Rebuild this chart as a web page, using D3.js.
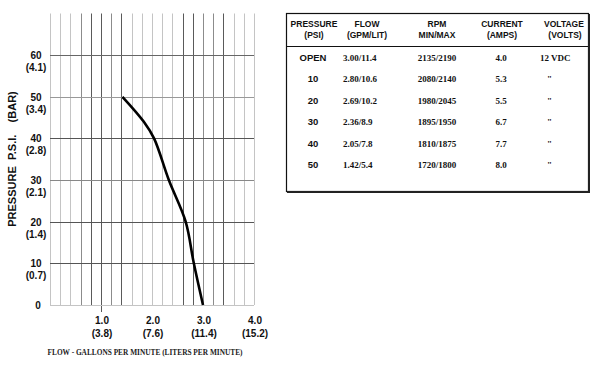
<!DOCTYPE html>
<html><head><meta charset="utf-8">
<script src="https://cdn.jsdelivr.net/npm/d3@7"></script>
<style>
body{margin:0;background:#fff;}
svg{display:block;}
.sans{font-family:"Liberation Sans",Arial,sans-serif;font-weight:bold;}
.serif{font-family:"Liberation Serif","Times New Roman",serif;font-weight:bold;}
</style></head>
<body>
<svg id="c" width="600" height="365"></svg>
<script>
// ---- data ----
const curveFlow = [3.00, 2.82, 2.66, 2.33, 2.04, 1.84, 1.42];
const curvePsi  = [0, 10, 20, 30, 40, 44, 50];
const yTicks = [0, 10, 20, 30, 40, 50, 60];
const yBar = ["", "(0.7)", "(1.4)", "(2.1)", "(2.8)", "(3.4)", "(4.1)"];
const xTicks = [1.0, 2.0, 3.0, 4.0];
const xLit = ["(3.8)", "(7.6)", "(11.4)", "(15.2)"];
const headers1 = ["PRESSURE", "FLOW", "RPM", "CURRENT", "VOLTAGE"];
const headers2 = ["(PSI)", "(GPM/LIT)", "MIN/MAX", "(AMPS)", "(VOLTS)"];
const rowPressure = ["OPEN", "10", "20", "30", "40", "50"];
const rowFlow = ["3.00/11.4", "2.80/10.6", "2.69/10.2", "2.36/8.9", "2.05/7.8", "1.42/5.4"];
const rowRpm = ["2135/2190", "2080/2140", "1980/2045", "1895/1950", "1810/1875", "1720/1800"];
const rowCurrent = ["4.0", "5.3", "5.5", "6.7", "7.7", "8.0"];
const rowVoltage = ["12 VDC", "\"", "\"", "\"", "\"", "\""];

const svg = d3.select("#c");
const x = d3.scaleLinear().domain([0, 4]).range([50, 254]);
const y = d3.scaleLinear().domain([0, 70]).range([305, 13.5]);

// vertical grid every 0.2
const vIdx = d3.range(0, 21);
const darkV = new Set([4, 5, 7, 13, 14, 17]);
const medV = new Set([3, 6, 15, 16]);
svg.append("g").selectAll("line").data(vIdx).join("line")
  .attr("x1", d => Math.round(x(d * 0.2)) + 0.5).attr("x2", d => Math.round(x(d * 0.2)) + 0.5)
  .attr("y1", y(70)).attr("y2", d => d === 5 ? 312 : y(0))
  .attr("stroke", d => darkV.has(d) ? "#5a5a5a" : medV.has(d) ? "#8c8c8c" : "#c4c4c4")
  .attr("stroke-width", 1);

// horizontal grid
const hShade = {0: "#c4c4c4", 10: "#555", 20: "#555", 30: "#888", 40: "#555", 50: "#999", 60: "#666"};
svg.append("g").selectAll("line").data(yTicks).join("line")
  .attr("x1", x(0)).attr("x2", x(4))
  .attr("y1", d => Math.round(y(d)) + 0.5).attr("y2", d => Math.round(y(d)) + 0.5)
  .attr("stroke", d => hShade[d]).attr("stroke-width", 1);

// y labels
const yl = svg.append("g").attr("class", "sans").attr("font-size", 10).attr("text-anchor", "middle").attr("fill", "#111");
yl.selectAll("text.n").data(yTicks).join("text").attr("class", "n")
  .attr("x", d => d === 0 ? 38 : 36).attr("y", d => y(d) + 4).text(d => d);
yl.selectAll("text.b").data(yTicks.slice(1)).join("text").attr("class", "b")
  .attr("x", 36).attr("y", d => y(d) + 16).text((d, i) => yBar[i + 1]);

// x labels
const xl = svg.append("g").attr("class", "sans").attr("font-size", 10).attr("text-anchor", "middle").attr("fill", "#111");
xl.selectAll("text.n").data(xTicks).join("text").attr("class", "n")
  .attr("x", d => x(d) + 1).attr("y", 324).text(d => d.toFixed(1));
xl.selectAll("text.b").data(xTicks).join("text").attr("class", "b")
  .attr("x", d => x(d) + 1).attr("y", 337).text((d, i) => xLit[i]);

// axis titles
svg.append("text").attr("class", "sans").attr("font-size", 11).attr("fill", "#111")
  .attr("text-anchor", "middle").attr("transform", "translate(16,159) rotate(-90)")
  .attr("xml:space", "preserve").text("PRESSURE  P.S.I.    (BAR)");
svg.append("text").attr("class", "serif").attr("font-size", 8).attr("fill", "#222")
  .attr("text-anchor", "middle").attr("x", 145).attr("y", 355)
  .attr("textLength", 195).attr("lengthAdjust", "spacingAndGlyphs")
  .text("FLOW - GALLONS PER MINUTE (LITERS PER MINUTE)");

// curve
const pts = curveFlow.map((f, i) => [f, curvePsi[i]]);
svg.append("path").datum(pts)
  .attr("d", d3.line().x(d => x(d[0])).y(d => y(d[1])).curve(d3.curveCatmullRom.alpha(0.5)))
  .attr("fill", "none").attr("stroke", "#000").attr("stroke-width", 2.6);

// table
const T = {l: 286, r: 588, t: 13, b: 191};
svg.append("rect").attr("x", T.l + 0.5).attr("y", T.t + 0.5).attr("width", T.r - T.l).attr("height", T.b - T.t)
  .attr("fill", "#fff").attr("stroke", "#111").attr("stroke-width", 1.2);
svg.append("line").attr("x1", T.r + 1).attr("x2", T.r + 1).attr("y1", T.t + 1).attr("y2", T.b + 2).attr("stroke", "#222").attr("stroke-width", 2);
svg.append("line").attr("x1", T.l + 1).attr("x2", T.r + 2).attr("y1", T.b + 1).attr("y2", T.b + 1).attr("stroke", "#222").attr("stroke-width", 2);
svg.append("line").attr("x1", T.l).attr("x2", T.r).attr("y1", 46.5).attr("y2", 46.5).attr("stroke", "#111").attr("stroke-width", 1.2);

const colX = [314, 367, 437, 502, 564];
const hg = svg.append("g").attr("class", "sans").attr("font-size", 8.5).attr("text-anchor", "middle").attr("fill", "#111");
hg.selectAll("text.h1").data(headers1).join("text").attr("class", "h1")
  .attr("x", (d, i) => colX[i]).attr("y", 27).text(d => d);
hg.selectAll("text.h2").data(headers2).join("text").attr("class", "h2")
  .attr("x", (d, i) => colX[i] + (i === 4 ? 1 : 0)).attr("y", 38).text(d => d);

const rowY = d3.scalePoint().domain(d3.range(6)).range([60.5, 168]);
svg.append("g").attr("class", "sans").attr("font-size", 9.5).attr("text-anchor", "middle").attr("fill", "#111")
  .selectAll("text").data(rowPressure).join("text")
  .attr("x", 313).attr("y", (d, i) => rowY(i)).text(d => d);
const sg = svg.append("g").attr("class", "serif").attr("font-size", 9).attr("fill", "#111");
sg.selectAll("text.f").data(rowFlow).join("text").attr("class", "f")
  .attr("x", 343).attr("y", (d, i) => rowY(i)).text(d => d);
sg.selectAll("text.r").data(rowRpm).join("text").attr("class", "r").attr("text-anchor", "middle")
  .attr("x", 437).attr("y", (d, i) => rowY(i)).text(d => d);
sg.selectAll("text.c").data(rowCurrent).join("text").attr("class", "c").attr("text-anchor", "middle")
  .attr("x", 501).attr("y", (d, i) => rowY(i)).text(d => d);
sg.selectAll("text.v").data(rowVoltage).join("text").attr("class", "v")
  .attr("x", (d, i) => i === 0 ? 540 : 547).attr("y", (d, i) => rowY(i)).text(d => d);
</script>
</body></html>
